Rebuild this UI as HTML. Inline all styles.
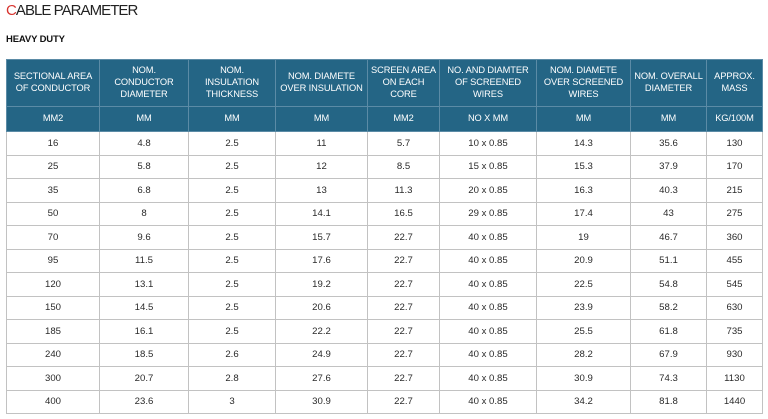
<!DOCTYPE html>
<html>
<head>
<meta charset="utf-8">
<style>
html,body{margin:0;padding:0;background:#fff;}
body{width:768px;height:419px;overflow:hidden;position:relative;font-family:"Liberation Sans",Arial,sans-serif;}
.title{position:absolute;left:6px;top:1px;font-size:15px;letter-spacing:-0.95px;color:#222;line-height:20px;white-space:nowrap;}
.title span{color:#d8342f;}
.sub{position:absolute;left:6px;top:33px;font-size:9.5px;font-weight:bold;color:#111;letter-spacing:-0.15px;line-height:14px;white-space:nowrap;}
table{position:absolute;left:6px;top:59px;border-collapse:collapse;table-layout:fixed;width:756px;}
td{padding:0;text-align:center;vertical-align:middle;}
tr.h td{background:#246585;color:#fff;font-size:9.3px;line-height:11.7px;border:1px solid #5b8ba6;letter-spacing:-0.1px;}
tr.h1{height:47px;}
tr.h2{height:25px;}
tr.b{height:23.5px;}
tr.b td{color:#2a2a2a;font-size:9.6px;border:1px solid #c2c2c2;}
</style>
</head>
<body>
<div class="title"><span>C</span>ABLE PARAMETER</div>
<div class="sub">HEAVY DUTY</div>
<table>
<colgroup>
<col style="width:93px"><col style="width:89px"><col style="width:87px"><col style="width:92px"><col style="width:72px"><col style="width:97px"><col style="width:94px"><col style="width:76px"><col style="width:56px">
</colgroup>
<tr class="h h1">
<td>SECTIONAL AREA<br>OF CONDUCTOR</td>
<td>NOM.<br>CONDUCTOR<br>DIAMETER</td>
<td>NOM.<br>INSULATION<br>THICKNESS</td>
<td>NOM. DIAMETE<br>OVER INSULATION</td>
<td>SCREEN AREA<br>ON EACH<br>CORE</td>
<td>NO. AND DIAMTER<br>OF SCREENED<br>WIRES</td>
<td>NOM. DIAMETE<br>OVER SCREENED<br>WIRES</td>
<td>NOM. OVERALL<br>DIAMETER</td>
<td>APPROX.<br>MASS</td>
</tr>
<tr class="h h2">
<td>MM2</td><td>MM</td><td>MM</td><td>MM</td><td>MM2</td><td>NO X MM</td><td>MM</td><td>MM</td><td>KG/100M</td>
</tr>
<tr class="b"><td>16</td><td>4.8</td><td>2.5</td><td>11</td><td>5.7</td><td>10 x 0.85</td><td>14.3</td><td>35.6</td><td>130</td></tr>
<tr class="b"><td>25</td><td>5.8</td><td>2.5</td><td>12</td><td>8.5</td><td>15 x 0.85</td><td>15.3</td><td>37.9</td><td>170</td></tr>
<tr class="b"><td>35</td><td>6.8</td><td>2.5</td><td>13</td><td>11.3</td><td>20 x 0.85</td><td>16.3</td><td>40.3</td><td>215</td></tr>
<tr class="b"><td>50</td><td>8</td><td>2.5</td><td>14.1</td><td>16.5</td><td>29 x 0.85</td><td>17.4</td><td>43</td><td>275</td></tr>
<tr class="b"><td>70</td><td>9.6</td><td>2.5</td><td>15.7</td><td>22.7</td><td>40 x 0.85</td><td>19</td><td>46.7</td><td>360</td></tr>
<tr class="b"><td>95</td><td>11.5</td><td>2.5</td><td>17.6</td><td>22.7</td><td>40 x 0.85</td><td>20.9</td><td>51.1</td><td>455</td></tr>
<tr class="b"><td>120</td><td>13.1</td><td>2.5</td><td>19.2</td><td>22.7</td><td>40 x 0.85</td><td>22.5</td><td>54.8</td><td>545</td></tr>
<tr class="b"><td>150</td><td>14.5</td><td>2.5</td><td>20.6</td><td>22.7</td><td>40 x 0.85</td><td>23.9</td><td>58.2</td><td>630</td></tr>
<tr class="b"><td>185</td><td>16.1</td><td>2.5</td><td>22.2</td><td>22.7</td><td>40 x 0.85</td><td>25.5</td><td>61.8</td><td>735</td></tr>
<tr class="b"><td>240</td><td>18.5</td><td>2.6</td><td>24.9</td><td>22.7</td><td>40 x 0.85</td><td>28.2</td><td>67.9</td><td>930</td></tr>
<tr class="b"><td>300</td><td>20.7</td><td>2.8</td><td>27.6</td><td>22.7</td><td>40 x 0.85</td><td>30.9</td><td>74.3</td><td>1130</td></tr>
<tr class="b"><td>400</td><td>23.6</td><td>3</td><td>30.9</td><td>22.7</td><td>40 x 0.85</td><td>34.2</td><td>81.8</td><td>1440</td></tr>
</table>
</body>
</html>
